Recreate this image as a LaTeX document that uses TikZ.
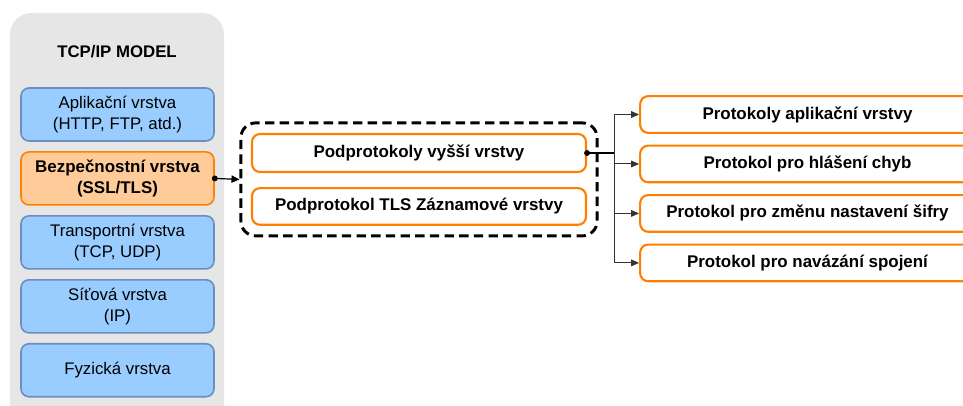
\documentclass[tikz,border=0pt]{standalone}
\usepackage{fontspec}
\setmainfont{Liberation Sans}
\usepackage{tikz}
\usetikzlibrary{positioning,arrows.meta,fit}
\definecolor{panelgray}{RGB}{230,230,230}
\definecolor{layerfill}{RGB}{153,204,255}
\definecolor{layerrule}{RGB}{108,142,191}
\definecolor{secfill}{RGB}{255,204,153}
\definecolor{orangerule}{RGB}{255,128,0}
\definecolor{branchgray}{RGB}{51,51,51}
\tikzset{
  layer/.style={rectangle,rounded corners=6pt,draw=layerrule,line width=1.2pt,align=center,minimum width=144.75pt,minimum height=39.75pt,fill=layerfill,font=\fontsize{12.6}{15.5}\selectfont},
  seclayer/.style={layer,draw=orangerule,fill=secfill,font=\fontsize{12.7}{15.5}\selectfont\bfseries},
  subflow/.style={rectangle,rounded corners=6pt,draw=orangerule,line width=1.6pt,align=center,minimum width=250.5pt,minimum height=27.5pt,fill=white,font=\fontsize{12.7}{15.5}\selectfont\bfseries},
  protobox/.style={subflow,minimum width=251pt},
  group/.style={rectangle,rounded corners=11pt,draw=black,line width=2.2pt,dash pattern=on 7pt off 4pt,inner sep=7.5pt},
  link/.style={-{Triangle[length=6pt,width=5.5pt]},line width=0.9pt},
  branch/.style={-{Triangle[length=6pt,width=5pt]},draw=branchgray,line width=0.8pt}
}

\begin{document}
\begin{tikzpicture}[x=0.75pt,y=-0.75pt,node distance=7pt]
  \useasboundingbox (0,0) rectangle (963,406);
  \clip (0,0) rectangle (963,406);
  % TCP/IP stack
  \fill[panelgray,rounded corners=16pt] (10,13) rectangle (224,440);
  \node[font=\fontsize{12.6}{15.5}\selectfont\bfseries] (title) at (117,52) {TCP/IP MODEL};
  \node[layer] (app) at (117.5,114.5) {Aplikační vrstva\\(HTTP, FTP, atd.)};
  \node[seclayer,below=of app] (sec) {Bezpečnostní vrstva\\(SSL/TLS)};
  \node[layer,below=of sec] (trans) {Transportní vrstva\\(TCP, UDP)};
  \node[layer,below=of trans] (net) {Síťová vrstva\\(IP)};
  \node[layer,below=of net] (phys) {Fyzická vrstva};
  % TLS subprotocols
  \node[subflow,minimum height=28.5pt] (upper) at (419,153) {Podprotokoly vyšší vrstvy};
  \node[subflow,below=10.5pt of upper] (record) {Podprotokol TLS Záznamové vrstvy};
  \node[group,fit=(upper)(record)] (group) {};
  % upper layer protocols
  \node[protobox] (p1) at (807.5,114.5) {Protokoly aplikační vrstvy};
  \node[protobox,below=8pt of p1] (p2) {Protokol pro hlášení chyb};
  \node[protobox,below=8pt of p2] (p3) {Protokol pro změnu nastavení šifry};
  \node[protobox,below=8pt of p3] (p4) {Protokol pro navázání spojení};
  % connectors
  \fill (sec.east) circle (2.2pt);
  \draw[link] (sec.east) -- (group.west);
  \coordinate (hub) at ([xshift=20.25pt]upper.east);
  \fill (upper.east) circle (2.2pt);
  \draw[line width=0.9pt] (upper.east) -- (hub);
  \foreach \p in {p1,p2,p3,p4}
    \draw[branch] (hub) |- (\p.west);
\end{tikzpicture}
\end{document}
